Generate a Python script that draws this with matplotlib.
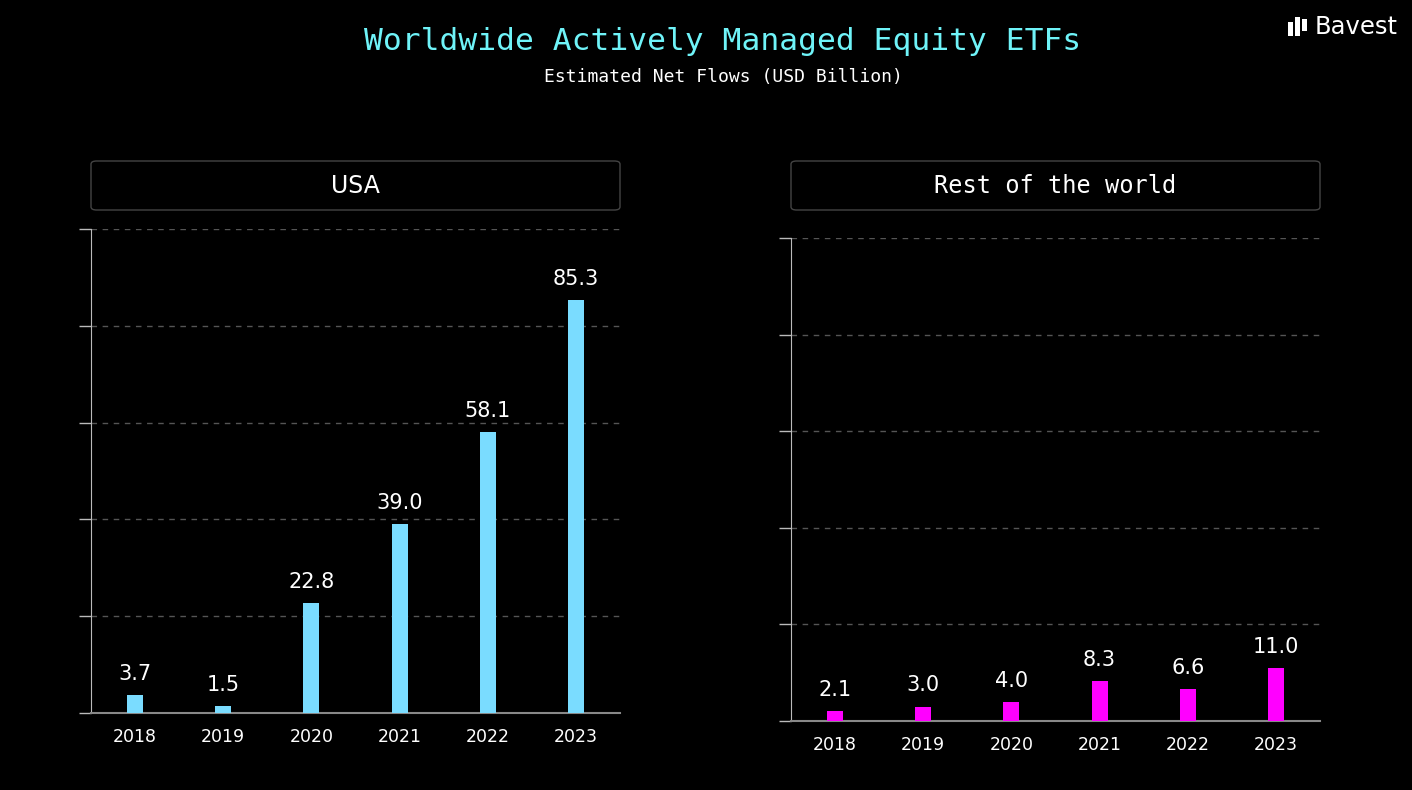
import matplotlib
matplotlib.use("Agg")
import matplotlib.pyplot as plt
from matplotlib.patches import FancyBboxPatch, Rectangle

years = ["2018", "2019", "2020", "2021", "2022", "2023"]
usa_values = [3.7, 1.5, 22.8, 39.0, 58.1, 85.3]
row_values = [2.1, 3.0, 4.0, 8.3, 6.6, 11.0]
panel_titles = ["USA", "Rest of the world"]
title = "Worldwide Actively Managed Equity ETFs"
subtitle = "Estimated Net Flows (USD Billion)"

W, H = 1412, 790
fig = plt.figure(figsize=(W / 100, H / 100), dpi=100, facecolor="black")

def ax_rect(x0, x1, ytop, ybot):
    return [x0 / W, 1 - ybot / H, (x1 - x0) / W, (ybot - ytop) / H]

panels = [
    (ax_rect(91, 620, 229, 713), usa_values, "#7ADCFF", (91, 620), "DejaVu Sans"),
    (ax_rect(791, 1320, 238, 721), row_values, "#FF00FF", (791, 1320), "DejaVu Sans Mono"),
]

for i, (rect, vals, color, (bx0, bx1), hfont) in enumerate(panels):
    ax = fig.add_axes(rect, facecolor="black")
    x = list(range(len(years)))
    ax.bar(x, vals, width=0.18, color=color, zorder=3)
    ax.set_xlim(-0.5, len(years) - 0.5)
    ax.set_ylim(0, 100)
    ax.set_yticks([0, 20, 40, 60, 80, 100])
    ax.set_yticklabels([])
    ax.set_xticks(x)
    ax.set_xticklabels(years, color="white", fontsize=12.5, family="DejaVu Sans")
    ax.tick_params(axis="x", length=0, pad=11)
    ax.tick_params(axis="y", length=9, color="#bbbbbb", width=1)
    for y in [20, 40, 60, 80, 100]:
        ax.axhline(y, color="#555555", lw=1, ls=(0, (4, 4)), zorder=1)
    for s in ["top", "right"]:
        ax.spines[s].set_visible(False)
    ax.spines["left"].set_color("#bbbbbb")
    ax.spines["bottom"].set_color("#888888")
    ax.spines["bottom"].set_linewidth(1.5)
    for xi, v in zip(x, vals):
        ax.annotate(f"{v:.1f}", (xi, v), xytext=(0, 8), textcoords="offset points",
                    ha="center", va="bottom", color="white", fontsize=15,
                    family="DejaVu Sans")
    # header box
    box = FancyBboxPatch((bx0 / W, 1 - 210 / H), (bx1 - bx0) / W, 49 / H,
                         boxstyle="round,pad=0,rounding_size=0.004",
                         transform=fig.transFigure, facecolor="black",
                         edgecolor="#444444", lw=1)
    fig.patches.append(box)
    fig.text((bx0 + bx1) / 2 / W, 1 - 186 / H, panel_titles[i], color="white",
             fontsize=17, family=hfont, ha="center", va="center")

fig.text(723 / W, 1 - 42 / H, title, color="#6FF3F8", fontsize=22.5,
         family="DejaVu Sans Mono", ha="center", va="center")
fig.text(723 / W, 1 - 77 / H, subtitle, color="white", fontsize=13,
         family="DejaVu Sans Mono", ha="center", va="center")

# Bavest logo
fig.text(1315 / W, 1 - 27 / H, "Bavest", color="white", fontsize=17.5,
         family="DejaVu Sans", ha="left", va="center")
for (lx, ly, lw_, lh) in [(1288, 22, 5, 14), (1295, 17, 5, 19), (1302, 19, 5, 12)]:
    fig.patches.append(Rectangle((lx / W, 1 - (ly + lh) / H), lw_ / W, lh / H,
                                 transform=fig.transFigure, facecolor="white",
                                 edgecolor="none"))

fig.savefig("out.png", dpi=100, facecolor="black")
